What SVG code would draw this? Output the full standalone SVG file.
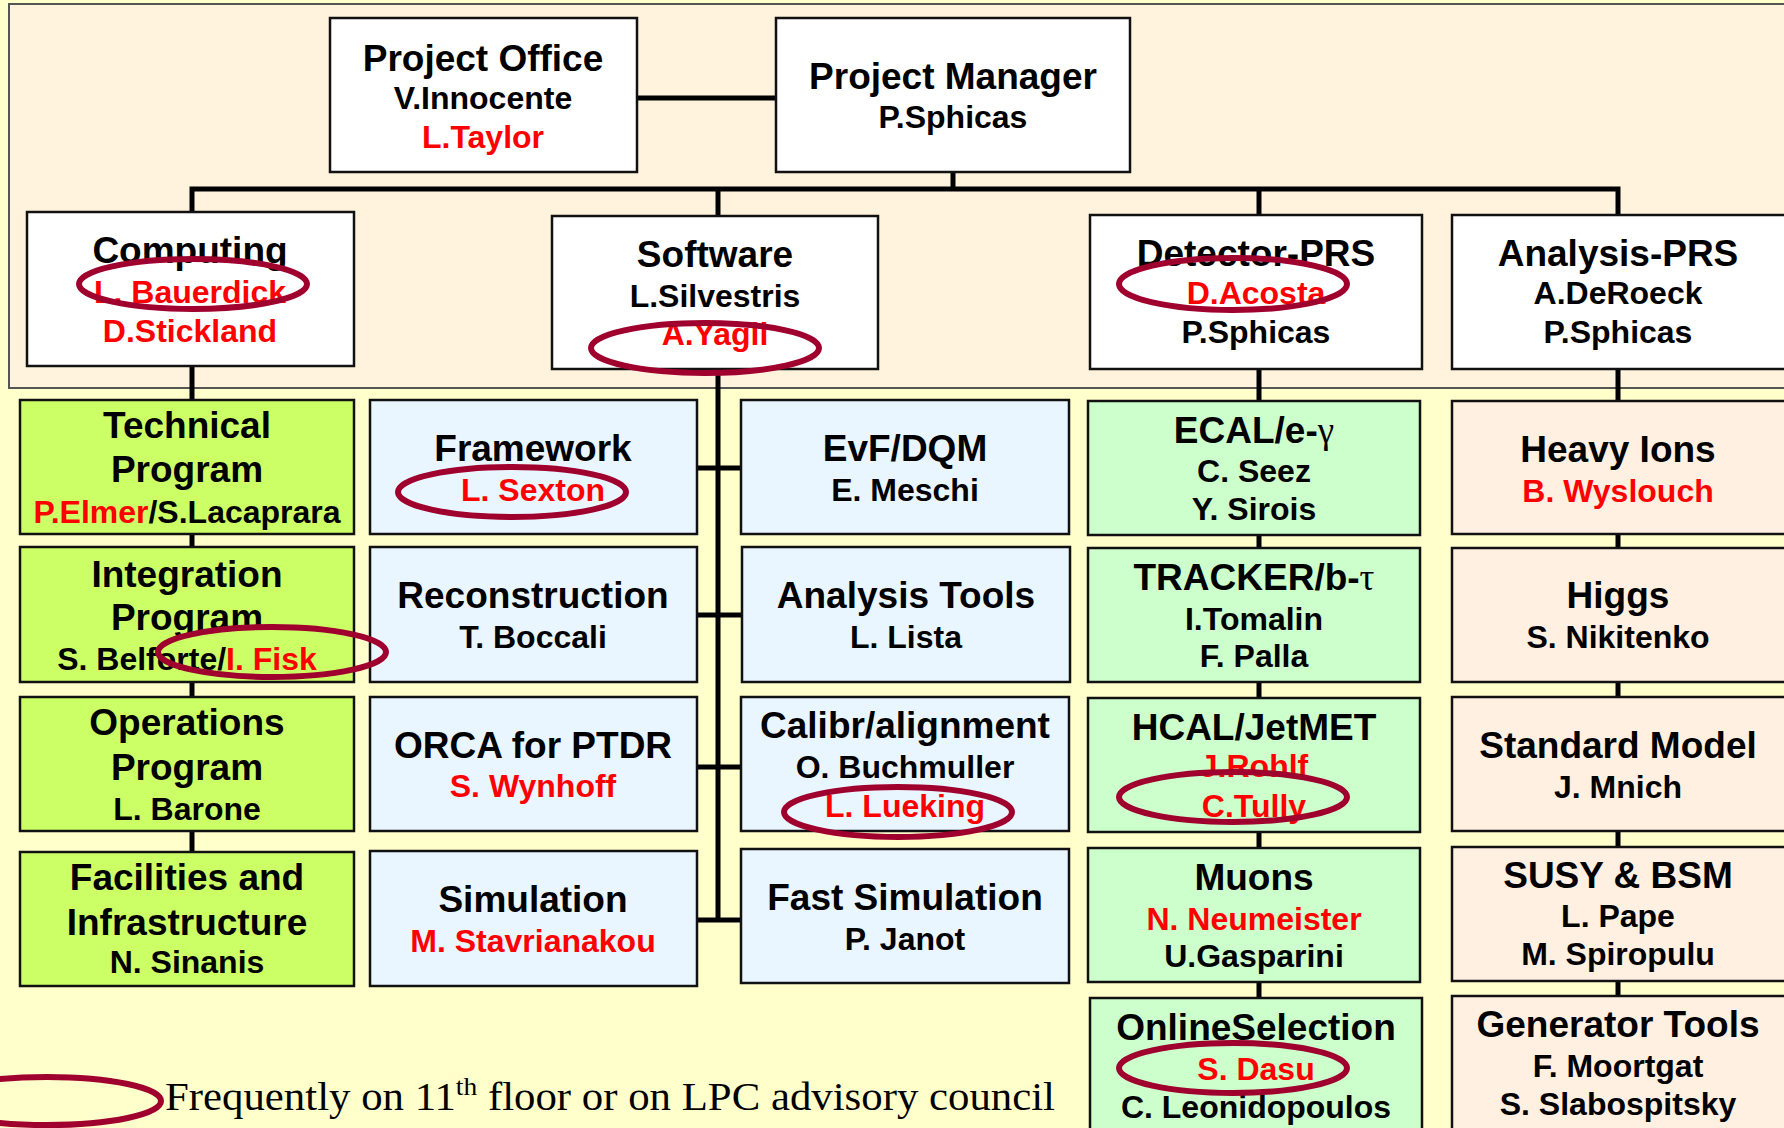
<svg xmlns="http://www.w3.org/2000/svg" width="1784" height="1128" viewBox="0 0 1784 1128">
<style>
.bx{stroke:#111;stroke-width:2.5}
.w{fill:#ffffff}
.g1{fill:#ccff66}
.bl{fill:#e9f5ff}
.g4{fill:#ccffcc}
.pe{fill:#fff0e2}
text{font-family:"Liberation Sans",Arial,sans-serif;font-weight:bold;text-anchor:middle;fill:#000}
.t{font-size:37px}
.n{font-size:32px}
.r{fill:#ff0000}
.el{fill:none;stroke:#a0002e;stroke-width:6}
.c{fill:none;stroke:#000;stroke-width:5}
.sym{font-family:"Liberation Serif","DejaVu Serif",serif;font-weight:normal}
</style>
<rect x="0" y="0" width="1784" height="1128" fill="#ffffcc"/>
<rect x="9" y="4" width="1790" height="384" fill="#fff3de" stroke="#555" stroke-width="2"/>

<g id="connectors">
<path class="c" d="M637,98 H776"/>
<path class="c" d="M953,172 V189"/>
<path class="c" d="M192,212 V189 H1618 V215"/>
<path class="c" d="M718,189 V216"/>
<path class="c" d="M1259,189 V215"/>
<path class="c" d="M192,366 V851"/>
<path class="c" d="M718,369 V920"/>
<path class="c" d="M697,468 H741 M697,615 H741 M697,767 H741 M697,920 H741"/>
<path class="c" d="M1259,369 V998"/>
<path class="c" d="M1618,369 V996"/>
</g>

<g id="project-office">
<rect class="bx w" x="330" y="18" width="307" height="154"/>
<text class="t" x="483" y="71">Project Office</text>
<text class="n" x="483" y="109">V.Innocente</text>
<text class="n r" x="483" y="148">L.Taylor</text>
</g>
<g id="project-manager">
<rect class="bx w" x="776" y="18" width="354" height="154"/>
<text class="t" x="953" y="89">Project Manager</text>
<text class="n" x="953" y="128">P.Sphicas</text>
</g>

<g id="computing">
<rect class="bx w" x="27" y="212" width="327" height="154"/>
<text class="t" x="190" y="263">Computing</text>
<text class="n r" x="190" y="303">L. Bauerdick</text>
<text class="n r" x="190" y="342">D.Stickland</text>
<ellipse class="el" cx="193" cy="284" rx="114" ry="25"/>
</g>
<g id="software">
<rect class="bx w" x="552" y="216" width="326" height="153"/>
<text class="t" x="715" y="267">Software</text>
<text class="n" x="715" y="307">L.Silvestris</text>
<text class="n r" x="715" y="345">A.Yagil</text>
<ellipse class="el" cx="705" cy="348" rx="114" ry="25"/>
</g>
<g id="detector-prs">
<rect class="bx w" x="1090" y="215" width="332" height="154"/>
<text class="t" x="1256" y="266">Detector-PRS</text>
<text class="n r" x="1256" y="304">D.Acosta</text>
<text class="n" x="1256" y="343">P.Sphicas</text>
<ellipse class="el" cx="1233" cy="284" rx="114" ry="26"/>
</g>
<g id="analysis-prs">
<rect class="bx w" x="1452" y="215" width="340" height="154"/>
<text class="t" x="1618" y="266">Analysis-PRS</text>
<text class="n" x="1618" y="304">A.DeRoeck</text>
<text class="n" x="1618" y="343">P.Sphicas</text>
</g>

<g id="framework">
<rect class="bx bl" x="370" y="400" width="327" height="134"/>
<text class="t" x="533" y="461">Framework</text>
<text class="n r" x="533" y="501">L. Sexton</text>
<ellipse class="el" cx="512" cy="492" rx="114" ry="25"/>
</g>
<g id="reconstruction">
<rect class="bx bl" x="370" y="547" width="327" height="135"/>
<text class="t" x="533" y="608">Reconstruction</text>
<text class="n" x="533" y="648">T. Boccali</text>
</g>
<g id="orca">
<rect class="bx bl" x="370" y="697" width="327" height="134"/>
<text class="t" x="533" y="758">ORCA for PTDR</text>
<text class="n r" x="533" y="797">S. Wynhoff</text>
</g>
<g id="simulation">
<rect class="bx bl" x="370" y="851" width="327" height="135"/>
<text class="t" x="533" y="912">Simulation</text>
<text class="n r" x="533" y="952">M. Stavrianakou</text>
</g>

<g id="technical-program">
<rect class="bx g1" x="20" y="400" width="334" height="134"/>
<text class="t" x="187" y="438">Technical</text>
<text class="t" x="187" y="482">Program</text>
<text class="n" x="187" y="523"><tspan class="r">P.Elmer</tspan>/S.Lacaprara</text>
</g>
<g id="integration-program">
<rect class="bx g1" x="20" y="547" width="334" height="135"/>
<text class="t" x="187" y="587">Integration</text>
<text class="t" x="187" y="630">Program</text>
<text class="n" x="187" y="670">S. Belforte/<tspan class="r">I. Fisk</tspan></text>
<ellipse class="el" cx="272" cy="652" rx="114" ry="25"/>
</g>
<g id="operations-program">
<rect class="bx g1" x="20" y="697" width="334" height="134"/>
<text class="t" x="187" y="735">Operations</text>
<text class="t" x="187" y="780">Program</text>
<text class="n" x="187" y="820">L. Barone</text>
</g>
<g id="facilities">
<rect class="bx g1" x="20" y="852" width="334" height="134"/>
<text class="t" x="187" y="890">Facilities and</text>
<text class="t" x="187" y="935">Infrastructure</text>
<text class="n" x="187" y="973">N. Sinanis</text>
</g>

<g id="evf-dqm">
<rect class="bx bl" x="741" y="400" width="328" height="134"/>
<text class="t" x="905" y="461">EvF/DQM</text>
<text class="n" x="905" y="501">E. Meschi</text>
</g>
<g id="analysis-tools">
<rect class="bx bl" x="742" y="547" width="328" height="135"/>
<text class="t" x="906" y="608">Analysis Tools</text>
<text class="n" x="906" y="648">L. Lista</text>
</g>
<g id="calibr">
<rect class="bx bl" x="741" y="697" width="328" height="134"/>
<text class="t" x="905" y="738">Calibr/alignment</text>
<text class="n" x="905" y="778">O. Buchmuller</text>
<text class="n r" x="905" y="817">L. Lueking</text>
<ellipse class="el" cx="898" cy="812" rx="114" ry="25"/>
</g>
<g id="fast-simulation">
<rect class="bx bl" x="741" y="849" width="328" height="134"/>
<text class="t" x="905" y="910">Fast Simulation</text>
<text class="n" x="905" y="950">P. Janot</text>
</g>

<g id="ecal">
<rect class="bx g4" x="1088" y="401" width="332" height="134"/>
<text class="t" x="1254" y="443">ECAL/e-<tspan class="sym">γ</tspan></text>
<text class="n" x="1254" y="482">C. Seez</text>
<text class="n" x="1254" y="520">Y. Sirois</text>
</g>
<g id="tracker">
<rect class="bx g4" x="1088" y="548" width="332" height="134"/>
<text class="t" x="1254" y="590">TRACKER/b-<tspan class="sym">τ</tspan></text>
<text class="n" x="1254" y="630">I.Tomalin</text>
<text class="n" x="1254" y="667">F. Palla</text>
</g>
<g id="hcal">
<rect class="bx g4" x="1088" y="698" width="332" height="134"/>
<text class="t" x="1254" y="740">HCAL/JetMET</text>
<text class="n r" x="1254" y="777">J.Rohlf</text>
<text class="n r" x="1254" y="817">C.Tully</text>
<ellipse class="el" cx="1233" cy="797" rx="114" ry="25"/>
</g>
<g id="muons">
<rect class="bx g4" x="1088" y="848" width="332" height="134"/>
<text class="t" x="1254" y="890">Muons</text>
<text class="n r" x="1254" y="930">N. Neumeister</text>
<text class="n" x="1254" y="967">U.Gasparini</text>
</g>
<g id="online-selection">
<rect class="bx g4" x="1090" y="998" width="332" height="140"/>
<text class="t" x="1256" y="1040">OnlineSelection</text>
<text class="n r" x="1256" y="1080">S. Dasu</text>
<text class="n" x="1256" y="1118">C. Leonidopoulos</text>
<ellipse class="el" cx="1233" cy="1068" rx="114" ry="25"/>
</g>

<g id="heavy-ions">
<rect class="bx pe" x="1452" y="401" width="340" height="133"/>
<text class="t" x="1618" y="462">Heavy Ions</text>
<text class="n r" x="1618" y="502">B. Wyslouch</text>
</g>
<g id="higgs">
<rect class="bx pe" x="1452" y="548" width="340" height="134"/>
<text class="t" x="1618" y="608">Higgs</text>
<text class="n" x="1618" y="648">S. Nikitenko</text>
</g>
<g id="standard-model">
<rect class="bx pe" x="1452" y="697" width="340" height="134"/>
<text class="t" x="1618" y="758">Standard Model</text>
<text class="n" x="1618" y="798">J. Mnich</text>
</g>
<g id="susy">
<rect class="bx pe" x="1452" y="847" width="340" height="134"/>
<text class="t" x="1618" y="888">SUSY &amp; BSM</text>
<text class="n" x="1618" y="927">L. Pape</text>
<text class="n" x="1618" y="965">M. Spiropulu</text>
</g>
<g id="generator-tools">
<rect class="bx pe" x="1452" y="996" width="340" height="142"/>
<text class="t" x="1618" y="1037">Generator Tools</text>
<text class="n" x="1618" y="1077">F. Moortgat</text>
<text class="n" x="1618" y="1115">S. Slabospitsky</text>
</g>

<g id="legend">
<ellipse class="el" cx="47" cy="1101" rx="114" ry="24"/>
<text x="165" y="1110" textLength="890" lengthAdjust="spacingAndGlyphs" style="font-family:'Liberation Serif','Times New Roman',serif;font-weight:normal;font-size:39px;text-anchor:start">Frequently on 11<tspan font-size="25" dy="-15">th</tspan><tspan dy="15"> floor or on LPC advisory council</tspan></text>
</g>
</svg>
